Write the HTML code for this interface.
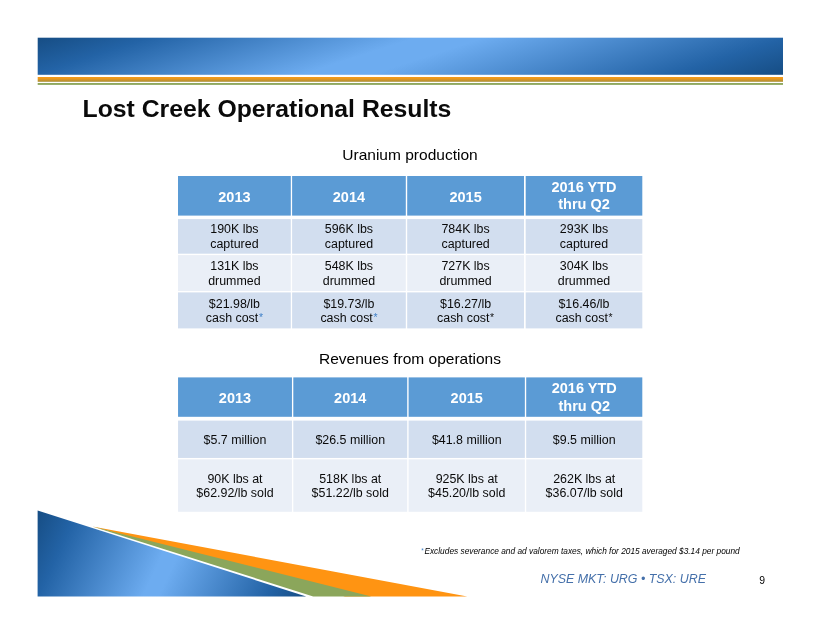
<!DOCTYPE html>
<html><head><meta charset="utf-8"><title>Lost Creek Operational Results</title>
<style>
html,body{margin:0;padding:0;background:#fff}
body{width:820px;height:634px;position:relative;overflow:hidden;font-family:"Liberation Sans",sans-serif;color:#000}
#w{position:absolute;left:0;top:0;width:820px;height:634px;will-change:transform}
.abs{position:absolute;white-space:nowrap}
#title{left:82.5px;top:93.6px;font-size:24.78px;font-weight:bold;line-height:30px;color:#0a0a0a}
.sub{font-size:15.53px;line-height:18px;color:#000;text-align:center;width:400px}
.c{position:absolute;display:flex;align-items:center;justify-content:center;text-align:center}
.c>div{position:relative}
.c.h{color:#fff;font-weight:bold;font-size:14.5px;line-height:17.6px}
.c.h1>div{top:1.5px}
.c.h2>div{top:0.7px}
.c.b{color:#0a0a0a;font-size:12.42px;line-height:14.5px}
.c.b.t2{line-height:14.2px}
.c.b>div{top:0.4px}
.c.b.t1.r2>div,.c.b.t1.r3>div{top:0.9px}
.ba,.ka{display:inline-block;width:4.7px;font-size:10.4px;line-height:1px;text-align:right;position:relative;top:-1.7px}
.ba{color:#3f80c8}
.fa{display:inline-block;width:3.1px;font-size:6.4px;line-height:1px;color:#3f80c8;position:relative;top:-1.6px;font-style:normal}
.ka{color:#111}
#fn{left:421.3px;top:546.4px;font-size:8.33px;font-style:italic;line-height:11px;color:#000}
#nyse{left:540.5px;top:571.5px;font-size:12.42px;font-style:italic;line-height:15px;color:#4570aa}
#pg{left:759.3px;top:575px;font-size:10.4px;line-height:12px;color:#000}
svg{position:absolute;left:0;top:0}
</style></head><body><div id="w">
<svg width="820" height="634" viewBox="0 0 820 634">
<defs>
<linearGradient id="bn" gradientUnits="userSpaceOnUse" x1="369.31" y1="-70.05" x2="451.39" y2="182.55">
<stop offset="0" stop-color="#164d84"/><stop offset="0.13" stop-color="#2363a6"/><stop offset="0.44" stop-color="#6dacf0"/><stop offset="0.52" stop-color="#6dacf0"/><stop offset="0.87" stop-color="#2363a6"/><stop offset="1" stop-color="#164d84"/>
</linearGradient>
<linearGradient id="gd" x1="0" y1="0" x2="0" y2="1">
<stop offset="0" stop-color="#f79b17"/><stop offset="0.35" stop-color="#ea971d"/><stop offset="1" stop-color="#a88f38"/>
</linearGradient>
<linearGradient id="bg" gradientUnits="userSpaceOnUse" x1="45.21" y1="494.19" x2="299.39" y2="612.71">
<stop offset="0" stop-color="#164d84"/><stop offset="0.13" stop-color="#2363a6"/><stop offset="0.47" stop-color="#6dacf0"/><stop offset="0.52" stop-color="#6dacf0"/><stop offset="0.87" stop-color="#2363a6"/><stop offset="1" stop-color="#164d84"/>
</linearGradient>
</defs>
<rect x="37.7" y="37.7" width="745.30" height="37.10" fill="url(#bn)"/>
<rect x="37.7" y="77" width="745.30" height="4.8" fill="url(#gd)"/>
<rect x="37.7" y="83" width="745.30" height="1.9" fill="#8fa85e"/>
<rect x="178.00" y="176.00" width="112.80" height="39.60" fill="#5b9bd5"/>
<rect x="292.10" y="176.00" width="113.70" height="39.60" fill="#5b9bd5"/>
<rect x="407.20" y="176.00" width="116.80" height="39.60" fill="#5b9bd5"/>
<rect x="525.70" y="176.00" width="116.60" height="39.60" fill="#5b9bd5"/>
<rect x="178.00" y="219.10" width="112.80" height="34.60" fill="#d2deef"/>
<rect x="292.10" y="219.10" width="113.70" height="34.60" fill="#d2deef"/>
<rect x="407.20" y="219.10" width="116.80" height="34.60" fill="#d2deef"/>
<rect x="525.70" y="219.10" width="116.60" height="34.60" fill="#d2deef"/>
<rect x="178.00" y="255.10" width="112.80" height="35.90" fill="#eaeff7"/>
<rect x="292.10" y="255.10" width="113.70" height="35.90" fill="#eaeff7"/>
<rect x="407.20" y="255.10" width="116.80" height="35.90" fill="#eaeff7"/>
<rect x="525.70" y="255.10" width="116.60" height="35.90" fill="#eaeff7"/>
<rect x="178.00" y="292.40" width="112.80" height="36.00" fill="#d2deef"/>
<rect x="292.10" y="292.40" width="113.70" height="36.00" fill="#d2deef"/>
<rect x="407.20" y="292.40" width="116.80" height="36.00" fill="#d2deef"/>
<rect x="525.70" y="292.40" width="116.60" height="36.00" fill="#d2deef"/>
<rect x="178.05" y="377.40" width="113.90" height="39.40" fill="#5b9bd5"/>
<rect x="293.30" y="377.40" width="113.90" height="39.40" fill="#5b9bd5"/>
<rect x="408.60" y="377.40" width="116.25" height="39.40" fill="#5b9bd5"/>
<rect x="526.20" y="377.40" width="116.10" height="39.40" fill="#5b9bd5"/>
<rect x="178.05" y="420.60" width="113.90" height="37.35" fill="#d2deef"/>
<rect x="293.30" y="420.60" width="113.90" height="37.35" fill="#d2deef"/>
<rect x="408.60" y="420.60" width="116.25" height="37.35" fill="#d2deef"/>
<rect x="526.20" y="420.60" width="116.10" height="37.35" fill="#d2deef"/>
<rect x="178.05" y="459.40" width="113.90" height="52.40" fill="#eaeff7"/>
<rect x="293.30" y="459.40" width="113.90" height="52.40" fill="#eaeff7"/>
<rect x="408.60" y="459.40" width="116.25" height="52.40" fill="#eaeff7"/>
<rect x="526.20" y="459.40" width="116.10" height="52.40" fill="#eaeff7"/>
<polygon points="92.4,526.5 467.3,596.4 345,596.4" fill="#ff9412"/>
<polygon points="92.4,526.5 371.3,596.4 313.2,596.4" fill="#8ba65b"/>
<polygon points="37.6,510.5 37.6,596.4 306.2,596.4" fill="url(#bg)"/>
</svg>
<div class="abs" id="title">Lost Creek Operational Results</div>
<div class="abs sub" style="left:210px;top:146.4px">Uranium production</div>
<div class="abs sub" style="left:210px;top:349.8px">Revenues from operations</div>
<div class="c h h1 t1" style="left:178.00px;top:176.00px;width:112.80px;height:39.60px"><div>2013</div></div>
<div class="c h h1 t1" style="left:292.10px;top:176.00px;width:113.70px;height:39.60px"><div>2014</div></div>
<div class="c h h1 t1" style="left:407.20px;top:176.00px;width:116.80px;height:39.60px"><div>2015</div></div>
<div class="c h h2 t1" style="left:525.70px;top:176.00px;width:116.60px;height:39.60px"><div>2016 YTD<br>thru Q2</div></div>
<div class="c b t1 r1" style="left:178.00px;top:219.10px;width:112.80px;height:34.60px"><div>190K lbs<br>captured</div></div>
<div class="c b t1 r1" style="left:292.10px;top:219.10px;width:113.70px;height:34.60px"><div>596K lbs<br>captured</div></div>
<div class="c b t1 r1" style="left:407.20px;top:219.10px;width:116.80px;height:34.60px"><div>784K lbs<br>captured</div></div>
<div class="c b t1 r1" style="left:525.70px;top:219.10px;width:116.60px;height:34.60px"><div>293K lbs<br>captured</div></div>
<div class="c b t1 r2" style="left:178.00px;top:255.10px;width:112.80px;height:35.90px"><div>131K lbs<br>drummed</div></div>
<div class="c b t1 r2" style="left:292.10px;top:255.10px;width:113.70px;height:35.90px"><div>548K lbs<br>drummed</div></div>
<div class="c b t1 r2" style="left:407.20px;top:255.10px;width:116.80px;height:35.90px"><div>727K lbs<br>drummed</div></div>
<div class="c b t1 r2" style="left:525.70px;top:255.10px;width:116.60px;height:35.90px"><div>304K lbs<br>drummed</div></div>
<div class="c b t1 r3" style="left:178.00px;top:292.40px;width:112.80px;height:36.00px"><div>$21.98/lb<br>cash cost<span class="ba">*</span></div></div>
<div class="c b t1 r3" style="left:292.10px;top:292.40px;width:113.70px;height:36.00px"><div>$19.73/lb<br>cash cost<span class="ba">*</span></div></div>
<div class="c b t1 r3" style="left:407.20px;top:292.40px;width:116.80px;height:36.00px"><div>$16.27/lb<br>cash cost<span class="ka">*</span></div></div>
<div class="c b t1 r3" style="left:525.70px;top:292.40px;width:116.60px;height:36.00px"><div>$16.46/lb<br>cash cost<span class="ka">*</span></div></div>
<div class="c h h1 t2" style="left:178.05px;top:377.40px;width:113.90px;height:39.40px"><div>2013</div></div>
<div class="c h h1 t2" style="left:293.30px;top:377.40px;width:113.90px;height:39.40px"><div>2014</div></div>
<div class="c h h1 t2" style="left:408.60px;top:377.40px;width:116.25px;height:39.40px"><div>2015</div></div>
<div class="c h h2 t2" style="left:526.20px;top:377.40px;width:116.10px;height:39.40px"><div>2016 YTD<br>thru Q2</div></div>
<div class="c b t2 r1" style="left:178.05px;top:420.60px;width:113.90px;height:37.35px"><div>$5.7 million</div></div>
<div class="c b t2 r1" style="left:293.30px;top:420.60px;width:113.90px;height:37.35px"><div>$26.5 million</div></div>
<div class="c b t2 r1" style="left:408.60px;top:420.60px;width:116.25px;height:37.35px"><div>$41.8 million</div></div>
<div class="c b t2 r1" style="left:526.20px;top:420.60px;width:116.10px;height:37.35px"><div>$9.5 million</div></div>
<div class="c b t2 r2" style="left:178.05px;top:459.40px;width:113.90px;height:52.40px"><div>90K lbs at<br>$62.92/lb sold</div></div>
<div class="c b t2 r2" style="left:293.30px;top:459.40px;width:113.90px;height:52.40px"><div>518K lbs at<br>$51.22/lb sold</div></div>
<div class="c b t2 r2" style="left:408.60px;top:459.40px;width:116.25px;height:52.40px"><div>925K lbs at<br>$45.20/lb sold</div></div>
<div class="c b t2 r2" style="left:526.20px;top:459.40px;width:116.10px;height:52.40px"><div>262K lbs at<br>$36.07/lb sold</div></div>

<div class="abs" id="fn"><span class="fa">*</span>Excludes severance and ad valorem taxes, which for 2015 averaged $3.14 per pound</div>
<div class="abs" id="nyse">NYSE MKT: URG • TSX: URE</div>
<div class="abs" id="pg">9</div>
</div></body></html>
